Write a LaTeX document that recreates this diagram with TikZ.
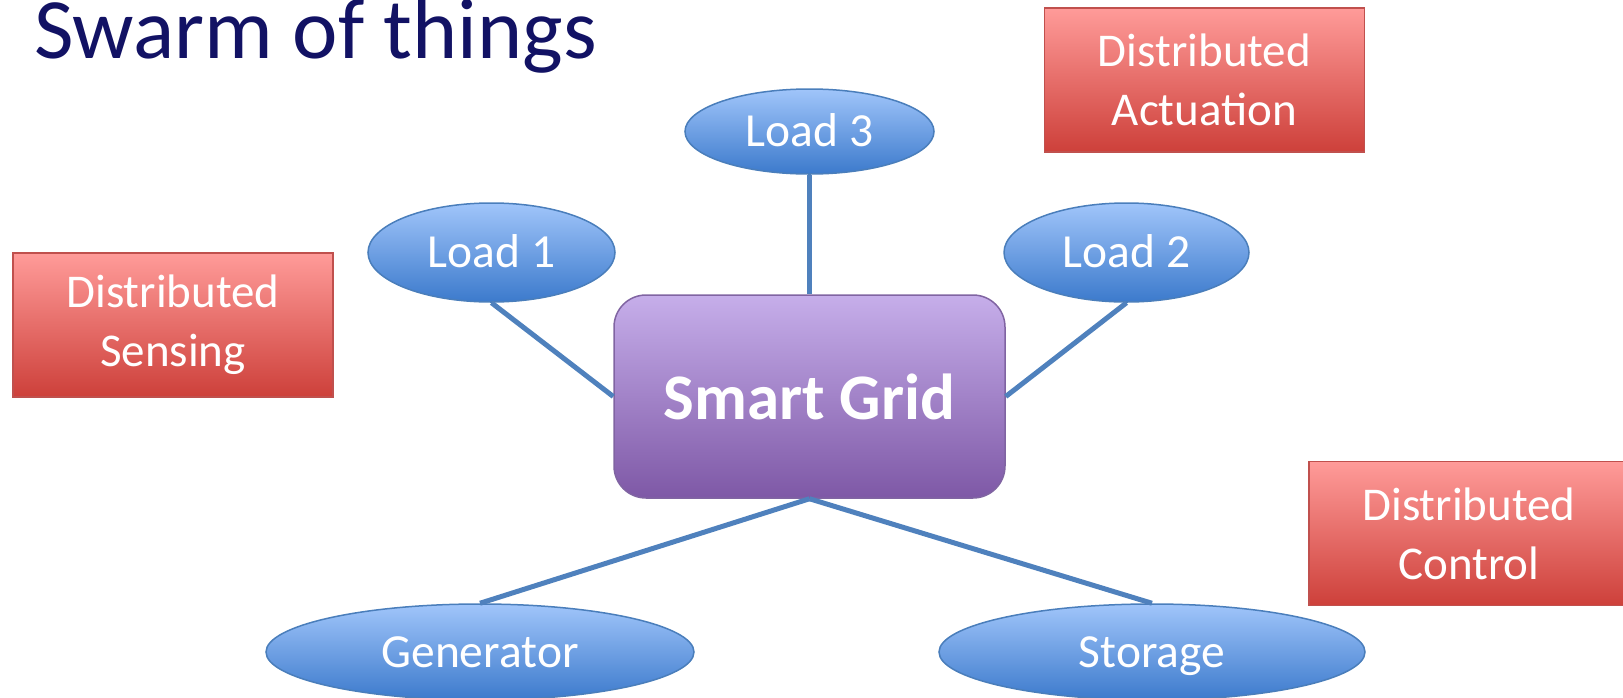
\documentclass[tikz,border=0pt]{standalone}
\usepackage{fontspec}
\setmainfont{Carlito}
\usetikzlibrary{shapes.geometric}
\definecolor{titlecol}{RGB}{18,18,100}
\definecolor{elltop}{RGB}{160,197,250}
\definecolor{ellbot}{RGB}{60,122,204}
\definecolor{ellborder}{RGB}{74,126,187}
\definecolor{redtop}{RGB}{255,155,153}
\definecolor{redbot}{RGB}{205,64,58}
\definecolor{redborder}{RGB}{192,80,77}
\definecolor{purtop}{RGB}{198,174,234}
\definecolor{purbot}{RGB}{126,88,166}
\definecolor{purborder}{RGB}{128,100,162}
\definecolor{linkcol}{RGB}{79,129,189}
\tikzset{
  ellnode/.style={ellipse, draw=ellborder, line width=1.5pt, top color=elltop, bottom color=ellbot,
    inner sep=0pt, text=white, font=\fontsize{47.5}{57}\selectfont, text height=38pt, text depth=8pt},
  redbox/.style={rectangle, draw=redborder, line width=1.5pt, top color=redtop, bottom color=redbot,
    inner sep=0pt, minimum width=320pt, minimum height=144pt, text=white, align=center,
    font=\fontsize{47}{59}\selectfont},
  gridbox/.style={rectangle, rounded corners=32pt, draw=purborder, line width=1.5pt,
    top color=purtop, bottom color=purbot, inner sep=0pt, minimum width=391pt, minimum height=203pt,
    text=white, font=\fontsize{65}{78}\selectfont\bfseries},
  link/.style={draw=linkcol, line width=5pt}
}
\begin{document}
\begin{tikzpicture}[x=1pt,y=-1pt]
\useasboundingbox (0,0) rectangle (1623,697);
\node[anchor=base west, inner sep=0pt, text=titlecol, font=\fontsize{86}{100}\selectfont] (title) at (34,58) {Swarm of things};
\node[gridbox] (sg) at (809.5,396.5) {Smart Grid};
\node[ellnode, minimum width=249pt, minimum height=85pt] (load3) at (809.5,131.5) {Load 3};
\node[ellnode, minimum width=247pt, minimum height=99pt] (load1) at (491.5,252.5) {Load 1};
\node[ellnode, minimum width=245pt, minimum height=99pt] (load2) at (1126.5,252.5) {Load 2};
\node[ellnode, minimum width=428pt, minimum height=96pt] (gen) at (480,652) {Generator};
\node[ellnode, minimum width=426pt, minimum height=96pt] (stor) at (1152,652) {Storage};
\node[redbox] (act) at (1204.5,80) {Distributed\\Actuation};
\node[redbox] (sens) at (173,325) {Distributed\\Sensing};
\node[redbox] (ctrl) at (1469,533.5) {Distributed\\Control};
\draw[link] (load3.south) -- (sg.north);
\draw[link] (load1.south) -- (sg.west);
\draw[link] (load2.south) -- (sg.east);
\draw[link] (gen.north) -- (sg.south);
\draw[link] (stor.north) -- (sg.south);
\end{tikzpicture}
\end{document}
